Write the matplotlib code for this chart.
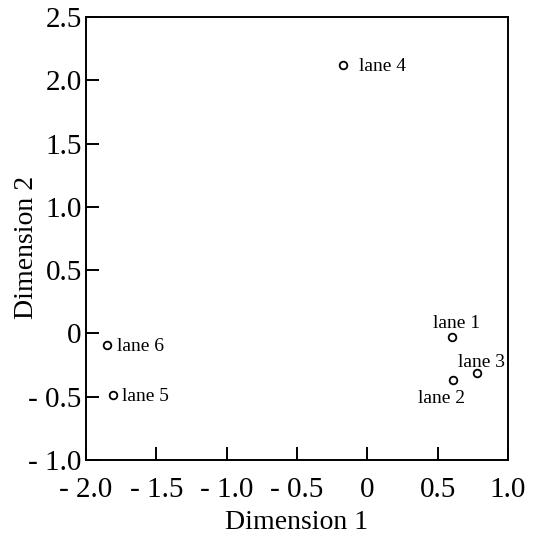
import matplotlib.pyplot as plt
from matplotlib.ticker import FuncFormatter

plt.rcParams['font.family'] = ['Liberation Serif', 'DejaVu Serif']

# lane coordinates
lanes = ["lane 1", "lane 2", "lane 3", "lane 4", "lane 5", "lane 6"]
dim1 = [0.60, 0.61, 0.78, -0.17, -1.81, -1.85]
dim2 = [-0.03, -0.37, -0.31, 2.12, -0.49, -0.09]

# label offsets (points, baseline) and horizontal alignment for each lane
offsets = {
    "lane 1": ((3.5, 7), "center"),
    "lane 2": ((-8, -16.5), "center"),
    "lane 3": ((3.5, 4.3), "center"),
    "lane 4": ((11, -4.3), "left"),
    "lane 5": ((7, -4.3), "left"),
    "lane 6": ((7, -4.3), "left"),
}

fig = plt.figure(figsize=(5.39, 5.48), dpi=100)
ax = fig.add_axes([86 / 539, 1 - 460 / 548, 422 / 539, 443 / 548])

ax.plot(dim1, dim2, linestyle="none", marker="o", markersize=5.5,
        markerfacecolor="white", markeredgecolor="black", markeredgewidth=1.3)

for name, x, y in zip(lanes, dim1, dim2):
    off, ha = offsets[name]
    ax.annotate(name, (x, y), xytext=off, textcoords="offset points",
                ha=ha, va="baseline", fontsize=14)

ax.set_xlim(-2.0, 1.0)
ax.set_ylim(-1.0, 2.5)
ax.set_xticks([-2.0, -1.5, -1.0, -0.5, 0, 0.5, 1.0])
ax.set_yticks([-1.0, -0.5, 0, 0.5, 1.0, 1.5, 2.0, 2.5])


def fmt(v, pos):
    if abs(v) < 1e-9:
        return "0"
    s = f"{abs(v):.1f}"
    return "- " + s if v < 0 else s


ax.xaxis.set_major_formatter(FuncFormatter(fmt))
ax.yaxis.set_major_formatter(FuncFormatter(fmt))
ax.tick_params(direction="in", length=9.5, width=1.4, labelsize=21)
ax.tick_params(axis="x", pad=12)
ax.tick_params(axis="y", pad=3)
for sp in ax.spines.values():
    sp.set_linewidth(1.4)

ax.set_xlabel("Dimension 1", fontsize=20, labelpad=5)
ax.set_ylabel("Dimension 2", fontsize=20)
# the label sits beside the narrower tick labels, as in the original
ax.yaxis.set_label_coords(-0.112, 0.48)

fig.savefig("out.png", dpi=100)
